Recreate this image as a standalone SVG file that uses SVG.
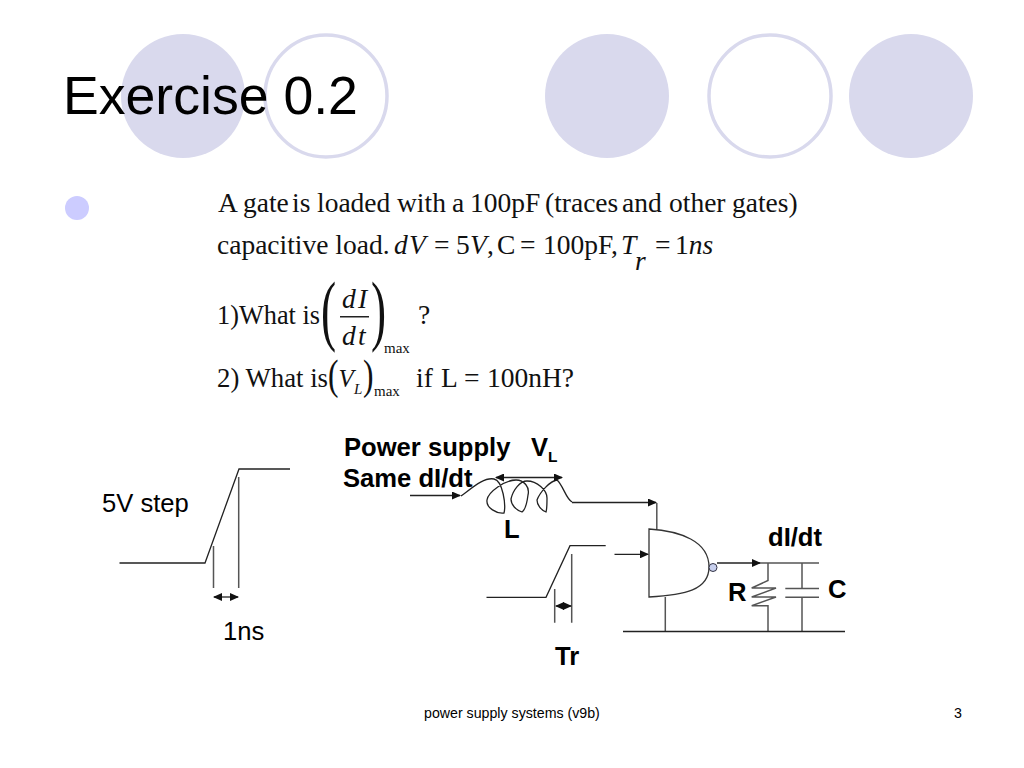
<svg xmlns="http://www.w3.org/2000/svg" width="1024" height="768" viewBox="0 0 1024 768">
<style>
.s{font-family:"Liberation Serif","Times New Roman",serif;font-size:27.5px;fill:#111}
.i{font-style:italic}
.a{font-family:"Liberation Sans",Arial,sans-serif;fill:#000}
.b{font-weight:bold;font-size:25.6px}
.r{font-size:25.6px}
.f{font-size:14.2px}
.t{font-size:53.6px}
.l{fill:none;stroke:#222;stroke-width:1.3}
.g{fill:none;stroke:#555;stroke-width:1.5}
.d{fill:#d9d9ed}
.m{font-size:15px}
</style>
<defs>
<marker id="h" markerWidth="9" markerHeight="8" refX="8" refY="4" orient="auto-start-reverse" markerUnits="userSpaceOnUse"><path d="M0 0L9 4L0 8Z" fill="#111"/></marker>
</defs>
<rect width="1024" height="768" fill="#fff"/>
<g id="decor">
<circle class="d" cx="183" cy="96" r="62"/>
<circle cx="326" cy="96" r="61" fill="#fff" stroke="#d9d9ed" stroke-width="3.5"/>
<circle class="d" cx="607" cy="96" r="62"/>
<circle cx="770" cy="96" r="61" fill="#fff" stroke="#d9d9ed" stroke-width="3.5"/>
<circle class="d" cx="911" cy="96" r="62"/>
<circle cx="77" cy="208" r="12" fill="#ccccff"/>
</g>
<text class="a t" x="63" y="114">Exercise 0.2</text>
<g id="problem">
<text class="s" y="212"><tspan x="218">A</tspan><tspan x="243">gate</tspan><tspan x="292">is</tspan><tspan x="317">loaded</tspan><tspan x="397">with</tspan><tspan x="452">a</tspan><tspan x="470">100pF</tspan><tspan x="545">(traces</tspan><tspan x="622">and</tspan><tspan x="669">other</tspan><tspan x="732">gates)</tspan></text>
<text class="s" y="254" x="217">capacitive load.</text>
<text class="s i" x="394" y="254">d</text>
<text class="s i" x="409" y="254">V</text>
<text class="s" x="434" y="254">=</text>
<text class="s" x="456" y="254">5</text>
<text class="s i" x="470" y="254">V</text>
<text class="s" x="487" y="254">,</text>
<text class="s" x="497" y="254">C</text>
<text class="s" x="520" y="254">=</text>
<text class="s" x="543" y="254">100pF,</text>
<text class="s i" x="621" y="254">T</text>
<text class="s i" x="635" y="270">r</text>
<text class="s" x="655" y="254">=</text>
<text class="s" x="675" y="254">1</text>
<text class="s i" x="688.800" y="254">ns</text>
<text class="s" x="217" y="324" textLength="103" lengthAdjust="spacingAndGlyphs">1)What is</text>
<text class="s" style="font-size:78px" transform="translate(321 336) scale(.58 1)">(</text>
<text class="s i" x="342" y="308">d</text>
<text class="s i" x="358" y="308">I</text>
<rect x="340" y="316" width="29" height="1.5" fill="#222"/>
<text class="s i" x="342" y="345">d</text>
<text class="s i" x="358" y="345">t</text>
<text class="s" style="font-size:78px" transform="translate(371 336) scale(.58 1)">)</text>
<text class="s m" x="384" y="353">max</text>
<text class="s" x="418" y="324">?</text>
<text class="s" x="217" y="387" textLength="111" lengthAdjust="spacingAndGlyphs">2) What is</text>
<text class="s" style="font-size:42px" transform="translate(328 389) scale(.75 1)">(</text>
<text class="s i" x="338.500" y="387" style="font-size:25px">V</text>
<text class="s i m" x="354" y="394">L</text>
<text class="s" style="font-size:42px" transform="translate(363 389) scale(.75 1)">)</text>
<text class="s m" x="374" y="396">max</text>
<text class="s" x="416" y="387">if</text>
<text class="s" x="441" y="387">L</text>
<text class="s" x="464" y="387">=</text>
<text class="s" x="487" y="387">100nH?</text>
</g>
<g id="step-5v">
<text class="a r" x="102" y="512">5V step</text>
<text class="a r" x="223" y="640">1ns</text>
</g>
<g id="power-labels">
<text class="a b" x="344" y="456">Power supply</text>
<text class="a b" x="531" y="456">V</text>
<text class="a b" x="548" y="462" style="font-size:15.5px">L</text>
<text class="a b" x="343" y="487">Same dI/dt</text>
<text class="a b" x="504" y="538">L</text>
</g>
<g id="gate">
<path d="M649 529C680 531 709 541 709 567C709 590 685 595 649 597Z" fill="#fff" stroke="#333" stroke-width="1.3"/>
<circle cx="713" cy="567.5" r="4" fill="#c8d0ee" stroke="#334" stroke-width="1"/>
</g>
<g id="load-labels">
<text class="a b" x="768" y="546">dI/dt</text>
<text class="a b" x="728" y="601">R</text>
<text class="a b" x="828" y="598">C</text>
<text class="a b" x="555" y="665">Tr</text>
</g>
<g id="connectors">
<path class="l" d="M119.500 563H205L239 469H290"/>
<path class="g" d="M213.500 546V588M238.700 477V588"/>
<path class="l" d="M214 597H238" marker-start="url(#h)" marker-end="url(#h)"/>
<path class="l" d="M410 495.500H460" marker-end="url(#h)"/>
<path class="l" d="M461 496C472 488 484 477 494 479C503 481 506 505 504 513C497 514 486 508 487 500C488 492 505 480 516 480C524 480 530 487 528 495C527 503 525 510 522 512C516 510 511 505 511 499C513 490 520 481 527 481C537 481 547 490 547 498C547 504 547 509 546 512C541 510 537 505 537 500C540 492 550 481 557 480C563 485 566 499 572 502"/>
<path class="l" d="M496 477.500H562" marker-start="url(#h)" marker-end="url(#h)"/>
<path class="l" d="M572 502.500H656" marker-end="url(#h)"/>
<path class="g" d="M656.800 503V529M665.300 597V631"/>
<path class="l" d="M486.500 597.300H546L570 545.700H605.700"/>
<path class="g" d="M554.700 589V622.700M571.700 554V622.700"/>
<path class="l" d="M556 606H571" marker-start="url(#h)" marker-end="url(#h)"/>
<path class="l" d="M614.500 554.300H648" marker-end="url(#h)"/>
<path class="l" d="M717 563H760" marker-end="url(#h)"/>
<path class="g" d="M760 563H819M768 563V580.500L751.700 588H776L751.700 597H776L751.700 605.700H768V631M802 563V588.500M785.300 588.500H819M785.300 597.300H819M802 597.300V631"/>
<path class="l" d="M623 631.500H845"/>
</g>
<g id="footer">
<text class="a f" x="424" y="718">power supply systems (v9b)</text>
<text class="a f" x="954" y="718">3</text>
</g>
</svg>
